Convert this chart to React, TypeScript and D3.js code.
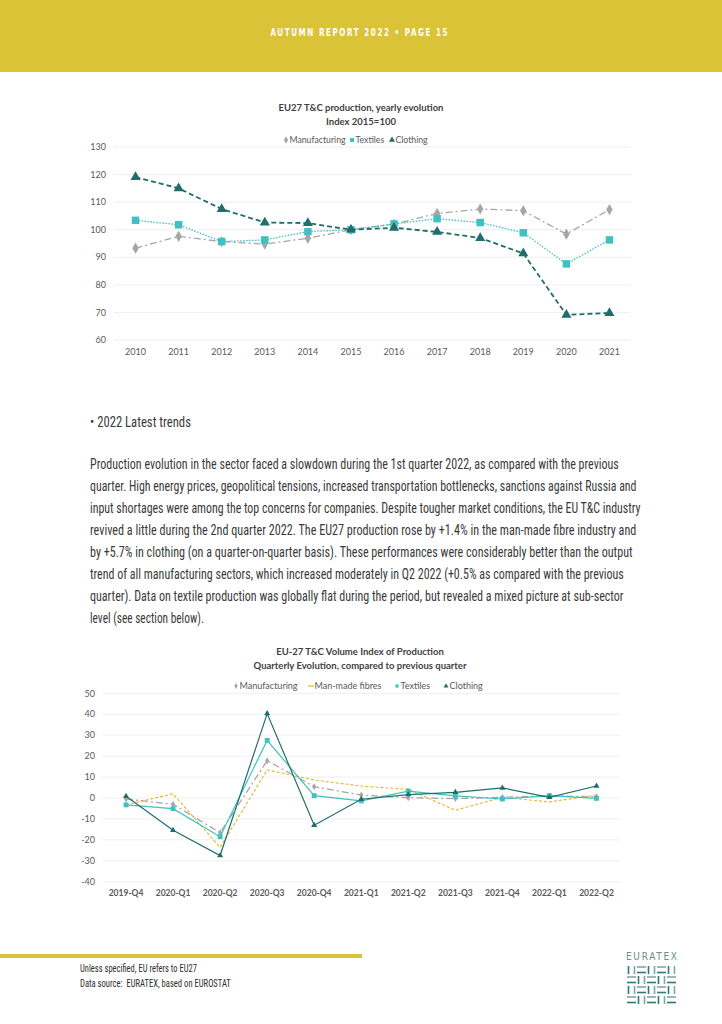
import React from 'react';
import * as d3 from 'd3';

// ---------- Data ----------
const years = ['2010', '2011', '2012', '2013', '2014', '2015', '2016', '2017', '2018', '2019', '2020', '2021'];
const yearlyManufacturing = [93.3, 97.6, 95.7, 94.8, 96.9, 100, 102.0, 105.9, 107.5, 106.9, 98.4, 107.3];
const yearlyTextiles = [103.4, 101.8, 95.7, 96.3, 99.3, 100, 102.1, 104.0, 102.6, 98.9, 87.6, 96.3];
const yearlyClothing = [119.1, 115.0, 107.5, 102.6, 102.4, 100, 100.7, 99.2, 97.0, 91.4, 69.1, 69.8];
const yearlyTicks = [60, 70, 80, 90, 100, 110, 120, 130];

const quarters = ['2019-Q4', '2020-Q1', '2020-Q2', '2020-Q3', '2020-Q4', '2021-Q1', '2021-Q2', '2021-Q3', '2021-Q4', '2022-Q1', '2022-Q2'];
const qManufacturing = [-0.5, -3.0, -16.6, 17.8, 5.4, 1.4, 0.1, -0.3, 0.3, 1.0, 0.6];
const qManMade = [-3.3, 2.0, -23.6, 13.4, 8.6, 5.7, 4.1, -5.9, 0.3, -1.9, 1.4];
const qTextiles = [-3.3, -5.1, -18.5, 27.5, 1.1, -1.4, 3.3, 1.0, -0.5, 1.1, -0.2];
const qClothing = [0.8, -15.4, -27.5, 40.3, -13.0, -0.6, 1.6, 2.7, 4.8, 0.3, 5.7];
const qTicks = [-40, -30, -20, -10, 0, 10, 20, 30, 40, 50];

const headerText = 'AUTUMN REPORT 2022 • PAGE 15';
const chart1Title = ['EU27 T&C production, yearly evolution', 'Index 2015=100'];
const chart2Title = ['EU-27 T&C Volume Index of Production', 'Quarterly Evolution, compared to previous quarter'];
const heading = '• 2022 Latest trends';
const paragraph = [
  'Production evolution in the sector faced a slowdown during the 1st quarter 2022, as compared with the previous',
  'quarter. High energy prices, geopolitical tensions, increased transportation bottlenecks, sanctions against Russia and',
  'input shortages were among the top concerns for companies. Despite tougher market conditions, the EU T&C industry',
  'revived a little during the 2nd quarter 2022. The EU27 production rose by +1.4% in the man-made fibre industry and',
  'by +5.7% in clothing (on a quarter-on-quarter basis). These performances were considerably better than the output',
  'trend of all manufacturing sectors, which increased moderately in Q2 2022 (+0.5% as compared with the previous',
  'quarter). Data on textile production was globally flat during the period, but revealed a mixed picture at sub-sector',
  'level (see section below).',
];
const paragraphEnds = [619, 637, 641, 637, 633, 624, 624, 204];
const footerLines = ['Unless specified, EU refers to EU27', 'Data source:\u00a0 EURATEX, based on EUROSTAT'];

// ---------- Styles ----------
const YELLOW = '#dac336';
const GREY = '#a6a6a6';
const CYAN = '#3fc1c1';
const TEAL = '#1f6e6b';
const GOLD = '#e2b828';
const AXIS_TXT = '#595959';
const CHART_FONT = 'Lato, "Open Sans", sans-serif';
const BODY_FONT = '"Liberation Sans Narrow", "Roboto Condensed", "DejaVu Sans Condensed", "Liberation Sans", sans-serif';

const sym = (type: d3.SymbolType, size: number) => d3.symbol().type(type).size(size)() as string;

// Text that is horizontally scaled to a target width (measured after layout)
function FitText(props: { x: number; y: number; width: number; children: string; [k: string]: any }) {
  const { x, y, width, children, ...rest } = props;
  const ref = React.useRef<SVGTextElement>(null);
  const [sx, setSx] = React.useState(1);
  React.useLayoutEffect(() => {
    if (ref.current) {
      const w = ref.current.getComputedTextLength();
      if (w > 0) setSx(width / w);
    }
  }, [width, children]);
  return (
    <text ref={ref} transform={`translate(${x},${y}) scale(${sx},1)`} {...rest}>{children}</text>
  );
}

function Chart1() {
  const x = d3.scaleBand<string>().domain(years).range([114, 631]);
  const cx = (d: string) => (x(d) as number) + x.bandwidth() / 2;
  const y = d3.scaleLinear().domain([60, 130]).range([340, 147]);
  const line = d3.line<number>().x((_, i) => cx(years[i])).y((v) => y(v));
  const series = [
    { name: 'Manufacturing', data: yearlyManufacturing, color: GREY, dash: '7,3,2,3', w: 1.3, symbol: d3.symbolDiamond, size: 36 },
    { name: 'Textiles', data: yearlyTextiles, color: CYAN, dash: '1.5,1.5', w: 1.3, symbol: d3.symbolSquare, size: 56 },
    { name: 'Clothing', data: yearlyClothing, color: TEAL, dash: '5,3', w: 1.8, symbol: d3.symbolTriangle, size: 44 },
  ];
  const legendX = [283, 349, 389];
  return (
    <g fontFamily={CHART_FONT}>
      <text x={361} y={111} textAnchor="middle" fontSize={9.5} fontWeight={700} fill="#404040">{chart1Title[0]}</text>
      <text x={361} y={125} textAnchor="middle" fontSize={9.5} fontWeight={700} fill="#404040">{chart1Title[1]}</text>
      {yearlyTicks.map((t) => (
        <g key={t}>
          <line x1={114} x2={631} y1={y(t)} y2={y(t)} stroke="#efefef" strokeWidth={1} />
          <text x={106} y={y(t) + 3.2} textAnchor="end" fontSize={9} fill={AXIS_TXT}>{t}</text>
        </g>
      ))}
      {years.map((yr) => (
        <text key={yr} x={cx(yr)} y={355} textAnchor="middle" fontSize={9} fill={AXIS_TXT}>{yr}</text>
      ))}
      {series.map((s) => (
        <g key={s.name}>
          <path d={line(s.data) as string} fill="none" stroke={s.color} strokeWidth={s.w} strokeDasharray={s.dash} />
          {s.data.map((v, i) => (
            <path key={i} d={sym(s.symbol, s.size)} transform={`translate(${cx(years[i])},${y(v)})`} fill={s.color} />
          ))}
        </g>
      ))}
      {series.map((s, i) => (
        <g key={s.name}>
          <path d={sym(s.symbol, 16)} transform={`translate(${legendX[i] + 3},${140})`} fill={s.color} />
          <text x={legendX[i] + 6.5} y={143} fontSize={8.7} fill={AXIS_TXT}>{s.name}</text>
        </g>
      ))}
    </g>
  );
}

function Chart2() {
  const x = d3.scaleBand<string>().domain(quarters).range([102.5, 620]);
  const cx = (d: string) => (x(d) as number) + x.bandwidth() / 2;
  const y = d3.scaleLinear().domain([-40, 50]).range([881.7, 693.3]);
  const line = d3.line<number>().x((_, i) => cx(quarters[i])).y((v) => y(v));
  const series = [
    { name: 'Manufacturing', data: qManufacturing, color: GREY, dash: '7,3,2,3', w: 1.3, symbol: d3.symbolDiamond, size: 14 },
    { name: 'Man-made fibres', data: qManMade, color: GOLD, dash: '3,2', w: 1.1, symbol: null, size: 0 },
    { name: 'Textiles', data: qTextiles, color: CYAN, dash: undefined, w: 1.2, symbol: d3.symbolSquare, size: 24 },
    { name: 'Clothing', data: qClothing, color: TEAL, dash: undefined, w: 1.2, symbol: d3.symbolTriangle, size: 16 },
  ];
  const legendX = [233, 308, 394, 443];
  return (
    <g fontFamily={CHART_FONT}>
      <text x={360} y={655} textAnchor="middle" fontSize={9.5} fontWeight={700} fill="#404040">{chart2Title[0]}</text>
      <text x={360} y={669} textAnchor="middle" fontSize={9.5} fontWeight={700} fill="#404040">{chart2Title[1]}</text>
      {qTicks.map((t) => (
        <g key={t}>
          <line x1={102.5} x2={620} y1={y(t)} y2={y(t)} stroke="#efefef" strokeWidth={1} />
          <text x={95} y={y(t) + 3.2} textAnchor="end" fontSize={9} fill={AXIS_TXT}>{t}</text>
        </g>
      ))}
      {quarters.map((q) => (
        <text key={q} x={cx(q)} y={896} textAnchor="middle" fontSize={8.5} fontWeight={700} fill={AXIS_TXT}>{q}</text>
      ))}
      {series.map((s) => (
        <g key={s.name}>
          <path d={line(s.data) as string} fill="none" stroke={s.color} strokeWidth={s.w} strokeDasharray={s.dash} />
          {s.symbol && s.data.map((v, i) => (
            <path key={i} d={sym(s.symbol as d3.SymbolType, s.size)} transform={`translate(${cx(quarters[i])},${y(v)})`} fill={s.color} />
          ))}
        </g>
      ))}
      {series.map((s, i) => (
        <g key={s.name}>
          {s.symbol ? (
            <path d={sym(s.symbol as d3.SymbolType, 10)} transform={`translate(${legendX[i] + 3},${686})`} fill={s.color} />
          ) : (
            <line x1={legendX[i]} x2={legendX[i] + 6} y1={686} y2={686} stroke={s.color} strokeWidth={1.2} />
          )}
          <text x={legendX[i] + 6.5} y={689} fontSize={9} fill={AXIS_TXT}>{s.name}</text>
        </g>
      ))}
    </g>
  );
}

function Logo() {
  const cols = d3.range(5);
  const rows = d3.range(4);
  const x0 = 627, y0 = 965, cw = 10, ch = 10;
  return (
    <g>
      <text x={626} y={960} fontSize={10} fill="#6d8b8b" fontFamily='"DejaVu Sans Condensed", sans-serif' textLength={51} lengthAdjust="spacing">EURATEX</text>
      {rows.map((r) => cols.map((c) => {
        const gx = x0 + c * cw, gy = y0 + r * ch;
        const vertical = (r + c) % 2 === 0;
        return vertical ? (
          <g key={`${r}-${c}`} stroke="#2b7a78" strokeWidth={1.6}>
            <line x1={gx + 1.5} x2={gx + 1.5} y1={gy + 1} y2={gy + 9} />
            <line x1={gx + 7.5} x2={gx + 7.5} y1={gy + 1} y2={gy + 9} stroke="#7fa7a8" />
          </g>
        ) : (
          <g key={`${r}-${c}`} stroke="#2b7a78" strokeWidth={1.6}>
            <line x1={gx} x2={gx + 9} y1={gy + 2} y2={gy + 2} stroke="#7fa7a8" />
            <line x1={gx} x2={gx + 9} y1={gy + 7.5} y2={gy + 7.5} />
          </g>
        );
      }))}
    </g>
  );
}

export default function App() {
  return (
    <div style={{ position: 'absolute', left: 0, top: 0 }}>
      <svg width={722} height={1024} viewBox="0 0 722 1024" style={{ display: 'block', background: '#ffffff' }}>
        <rect x={0} y={0} width={722} height={72} fill={YELLOW} />
        <FitText x={270.5} y={36} width={179} fontSize={10} fontWeight={700} fill="#ffffff" letterSpacing={2}
          fontFamily='"Liberation Sans Narrow", "DejaVu Sans Condensed", sans-serif'>{headerText}</FitText>

        <Chart1 />

        <g fontFamily={BODY_FONT} fill="#3a3a3a" fontSize={15}>
          <FitText x={90} y={427} width={101}>{heading}</FitText>
          {paragraph.map((ln, i) => (
            <FitText key={i} x={90} y={469 + 22 * i} width={paragraphEnds[i] - 90}>{ln}</FitText>
          ))}
        </g>

        <Chart2 />

        <rect x={0} y={954} width={362} height={4} fill={YELLOW} />
        <g fontFamily={BODY_FONT} fill="#2e2e2e" fontSize={10.5}>
          <FitText x={80} y={972} width={117}>{footerLines[0]}</FitText>
          <FitText x={80} y={987} width={151}>{footerLines[1]}</FitText>
        </g>
        <Logo />
      </svg>
    </div>
  );
}
